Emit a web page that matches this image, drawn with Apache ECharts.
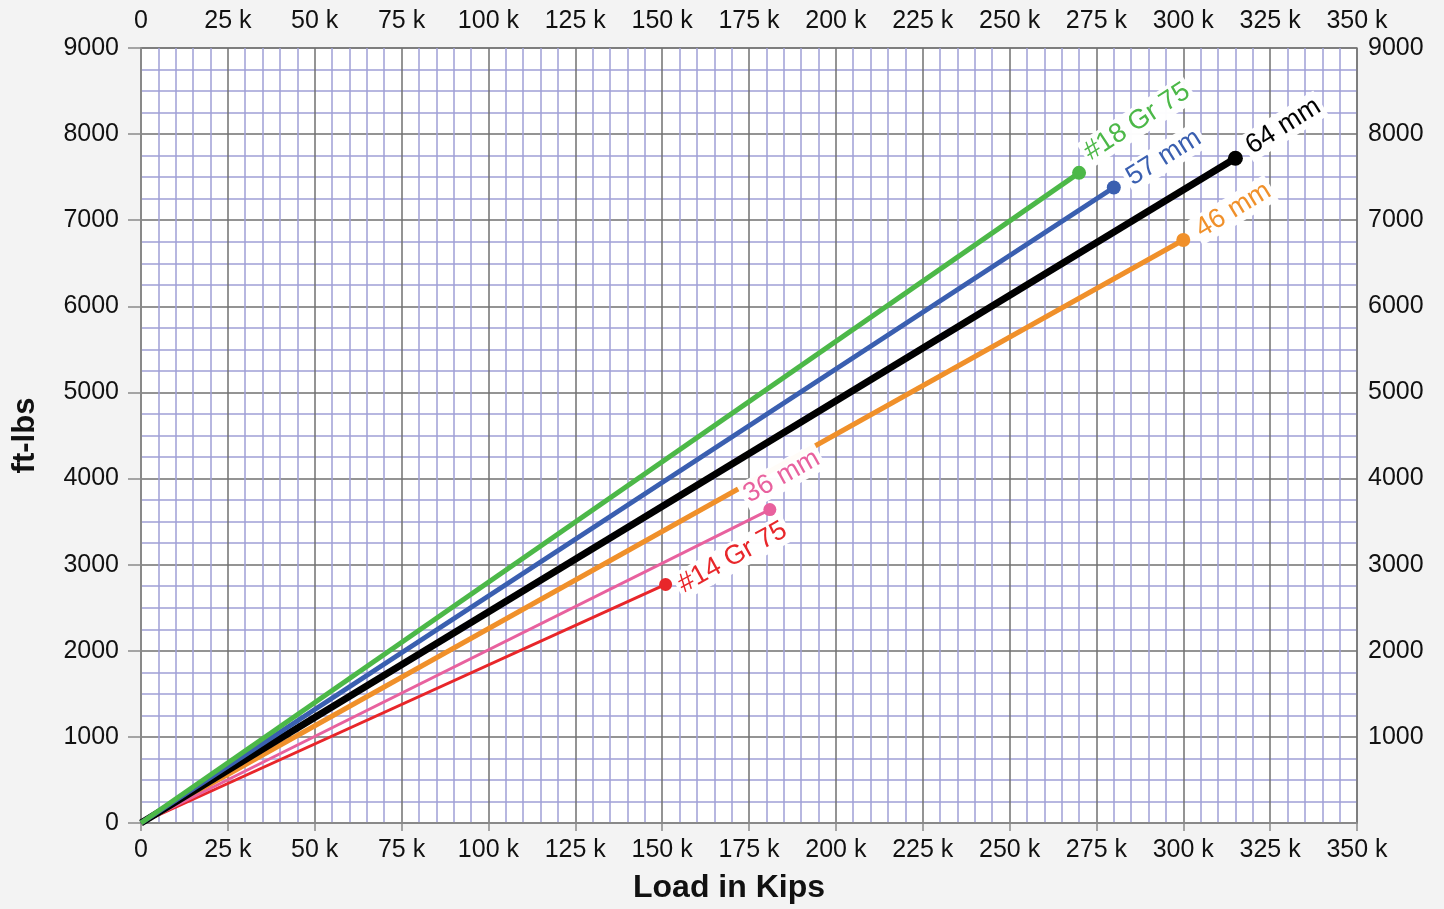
<!DOCTYPE html>
<html><head><meta charset="utf-8">
<script src="https://cdn.jsdelivr.net/npm/echarts@6/dist/echarts.min.js"></script>
<style>html,body{margin:0;padding:0;background:#f3f3f3;overflow:hidden}#c{width:1444px;height:909px}</style>
</head><body><div id="c"></div>
<script>
// ---- data ----
const seriesNames = ['#14 Gr 75', '46 mm', '36 mm', '64 mm', '57 mm', '#18 Gr 75'];
const endLoad = [151000, 300000, 181000, 315000, 280000, 270000];   // lbs (axis shown as "k")
const endFtLbs = [2770, 6770, 3640, 7720, 7380, 7550];
const xTickValues = [0, 25000, 50000, 75000, 100000, 125000, 150000, 175000, 200000, 225000, 250000, 275000, 300000, 325000, 350000];
const yTickValues = [0, 1000, 2000, 3000, 4000, 5000, 6000, 7000, 8000, 9000];

// ---- styles ----
const colors = ['#e8262a', '#f0902a', '#e8619e', '#000000', '#3a5fb0', '#4cb848'];
const widths = [3, 5, 3, 7, 5, 5];
const symSizes = [13, 14, 13, 15, 14, 14];
const labelRot = [29, 31, 29, 32, 32, 33];
const labelScreenOffset = [[67, -27], [50, -30], [12, -33], [48, -32], [50, -30], [58, -51]];

const chart = echarts.init(document.getElementById('c'));
const fontFam = 'Liberation Sans, Arial, sans-serif';

const series = seriesNames.map((name, i) => {
  const t = labelRot[i] * Math.PI / 180;
  const [ox, oy] = labelScreenOffset[i];
  const a = ox * Math.cos(t) - oy * Math.sin(t);
  const b = ox * Math.sin(t) + oy * Math.cos(t);
  return {
    name, type: 'line', xAxisIndex: 0, yAxisIndex: 0,
    data: [
      { value: [0, 0], symbolSize: 0, label: { show: false } },
      { value: [endLoad[i], endFtLbs[i]], symbolSize: symSizes[i],
        label: {
          show: true, formatter: name, position: 'inside', align: 'center', verticalAlign: 'middle',
          rotate: labelRot[i], offset: [a, b], color: colors[i], fontSize: 27, fontFamily: fontFam,
          backgroundColor: 'rgba(255,255,255,0.97)', padding: [1, 3]
        } }
    ],
    symbol: 'circle', showSymbol: true,
    lineStyle: { color: colors[i], width: widths[i] },
    itemStyle: { color: colors[i] },
    z: 2 + i,
    animation: false
  };
});

const kfmt = v => v === 0 ? '0' : (v / 1000) + ' k';
const nfmt = v => String(v);
const xMin = xTickValues[0], xMax = xTickValues[xTickValues.length - 1];
const xInt = xTickValues[1] - xTickValues[0];
const yMin = yTickValues[0], yMax = yTickValues[yTickValues.length - 1];
const yInt = yTickValues[1] - yTickValues[0];
const labelStyle = { color: '#111', fontSize: 25, fontFamily: fontFam };

chart.setOption({
  backgroundColor: '#f3f3f3',
  animation: false,
  grid: { left: 141, right: 87, top: 48, bottom: 75, show: true, backgroundColor: '#ffffff', borderColor: '#8a8a8a', borderWidth: 1.5 },
  xAxis: [
    {
      type: 'value', position: 'bottom', min: xMin, max: xMax, interval: xInt,
      axisLine: { show: true, lineStyle: { color: '#8a8a8a', width: 1.5 } },
      axisTick: { show: true, length: 8, lineStyle: { color: '#8a8a8a', width: 1.5 } },
      axisLabel: Object.assign({ formatter: kfmt, margin: 15 }, labelStyle),
      splitLine: { show: true, lineStyle: { color: '#707070', width: 1.5 } },
      minorTick: { show: false, splitNumber: 5 },
      minorSplitLine: { show: true, lineStyle: { color: '#a0a0d6', width: 1.5 } },
      name: 'Load in Kips', nameLocation: 'middle', nameGap: 49,
      nameTextStyle: { fontSize: 32, fontWeight: 'bold', color: '#111', fontFamily: fontFam, padding: [0, 40, 0, 0] }
    },
    {
      type: 'value', position: 'top', min: xMin, max: xMax, interval: xInt,
      axisLine: { show: true, lineStyle: { color: '#8a8a8a', width: 1.5 } },
      axisTick: { show: false },
      axisLabel: Object.assign({ formatter: kfmt, margin: 14 }, labelStyle),
      splitLine: { show: false }
    }
  ],
  yAxis: [
    {
      type: 'value', position: 'left', min: yMin, max: yMax, interval: yInt,
      axisLine: { show: true, lineStyle: { color: '#8a8a8a', width: 1.5 } },
      axisTick: { show: true, length: 13, lineStyle: { color: '#8a8a8a', width: 1.5 } },
      axisLabel: Object.assign({ formatter: nfmt, margin: 22 }, labelStyle),
      splitLine: { show: true, lineStyle: { color: '#707070', width: 1.5 } },
      minorTick: { show: false, splitNumber: 4 },
      minorSplitLine: { show: true, lineStyle: { color: '#a0a0d6', width: 1.5 } },
      name: 'ft-lbs', nameLocation: 'middle', nameGap: 100,
      nameTextStyle: { fontSize: 31, fontWeight: 'bold', color: '#111', fontFamily: fontFam }
    },
    {
      type: 'value', position: 'right', min: yMin, max: yMax, interval: yInt,
      axisLine: { show: true, lineStyle: { color: '#8a8a8a', width: 1.5 } },
      axisTick: { show: false },
      axisLabel: Object.assign({ formatter: nfmt, margin: 11, showMinLabel: false }, labelStyle),
      splitLine: { show: false }
    }
  ],
  series
});
</script></body></html>
